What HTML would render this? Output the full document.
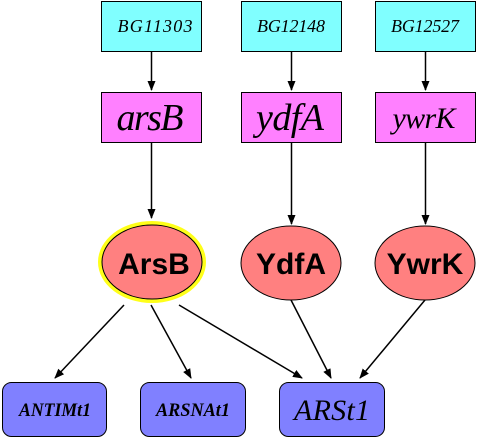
<!DOCTYPE html>
<html><head><style>body{margin:0;background:#fff}</style></head><body>
<svg width="477" height="438" xmlns="http://www.w3.org/2000/svg">
<defs><marker id="a" markerWidth="10" markerHeight="10" refX="9" refY="5" orient="auto" markerUnits="userSpaceOnUse"><path d="M0,1 L10,5 L0,9 z" fill="#000"/></marker></defs>
<g stroke="#000" stroke-width="1">
<rect x="101.5" y="1.5" width="100" height="50" fill="#80ffff"/>
<rect x="241.5" y="1.5" width="100" height="50" fill="#80ffff"/>
<rect x="375.5" y="1.5" width="100" height="50" fill="#80ffff"/>
<rect x="101.5" y="92.5" width="100" height="50" fill="#ff80ff"/>
<rect x="241.5" y="92.5" width="100" height="50" fill="#ff80ff"/>
<rect x="375.5" y="92.5" width="100" height="50" fill="#ff80ff"/>
</g>
<g stroke="#000" stroke-width="1.5" marker-end="url(#a)">
<line x1="151.5" y1="52" x2="151.5" y2="90"/>
<line x1="291.5" y1="52" x2="291.5" y2="90"/>
<line x1="425.5" y1="52" x2="425.5" y2="90"/>
<line x1="151.5" y1="143" x2="151.5" y2="218"/>
<line x1="291.5" y1="143" x2="291.5" y2="224"/>
<line x1="425.5" y1="143" x2="425.5" y2="224"/>
<line x1="124" y1="305" x2="55" y2="378"/>
<line x1="151" y1="305" x2="191" y2="378"/>
<line x1="179" y1="305" x2="302" y2="378"/>
<line x1="291" y1="300" x2="331" y2="378"/>
<line x1="425" y1="300" x2="360" y2="378"/>
</g>
<ellipse cx="152" cy="262" rx="54" ry="41" fill="#ffff00" opacity="0.9"/>
<ellipse cx="152" cy="262" rx="50" ry="37" fill="#ff8080" stroke="#000"/>
<ellipse cx="291" cy="263" rx="50" ry="37" fill="#ff8080" stroke="#000"/>
<ellipse cx="425" cy="263" rx="50" ry="37" fill="#ff8080" stroke="#000"/>
<g stroke="#000" fill="#8080ff">
<rect x="2.5" y="382.5" width="104" height="54" rx="9"/>
<rect x="140.5" y="382.5" width="105" height="54" rx="9"/>
<rect x="279.5" y="382.5" width="105" height="54" rx="9"/>
</g>
<g font-family="Liberation Serif, serif" font-style="italic" text-anchor="middle">
<text x="155" y="32" font-size="18" textLength="75">BG11303</text>
<text x="291" y="32" font-size="18" textLength="68">BG12148</text>
<text x="425" y="32" font-size="18" textLength="68">BG12527</text>
<text x="150" y="130" font-size="38" textLength="67">arsB</text>
<text x="290" y="130" font-size="38" textLength="68">ydfA</text>
<text x="424" y="128" font-size="30" textLength="63">ywrK</text>
<text x="55" y="416" font-size="19" font-weight="bold" textLength="72" lengthAdjust="spacingAndGlyphs">ANTIMt1</text>
<text x="193" y="416" font-size="19" font-weight="bold" textLength="74" lengthAdjust="spacingAndGlyphs">ARSNAt1</text>
<text x="332" y="420" font-size="30" textLength="76">ARSt1</text>
</g>
<g font-family="Liberation Sans, sans-serif" font-weight="bold" text-anchor="middle" font-size="30">
<text x="154" y="274">ArsB</text>
<text x="291" y="274">YdfA</text>
<text x="425" y="274">YwrK</text>
</g>
</svg>
</body></html>
